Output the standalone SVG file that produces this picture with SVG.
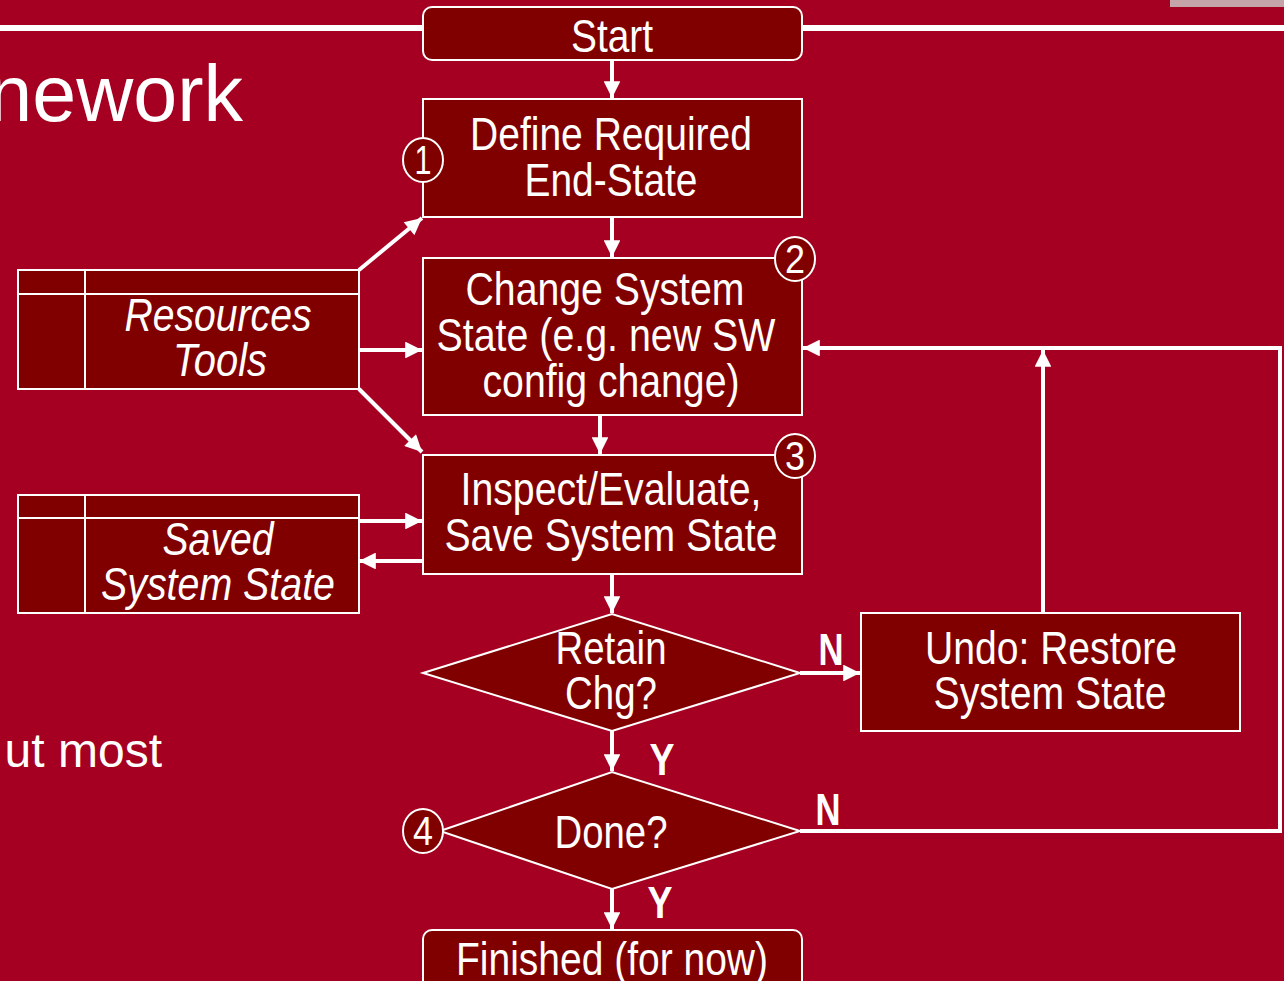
<svg xmlns="http://www.w3.org/2000/svg" width="1284" height="981" viewBox="0 0 1284 981">
<defs>
<marker id="ah" viewBox="0 0 10 10" refX="10" refY="5" markerWidth="4.5" markerHeight="4.2" markerUnits="strokeWidth" orient="auto">
<path d="M0,0 L10,5 L0,10 Z" fill="#fff"/>
</marker>
</defs>
<style>
.bg{fill:#A50021}
.box{fill:#800000;stroke:#fff;stroke-width:2}
.lbl{font-family:"Liberation Sans",Arial,sans-serif;fill:#fff;text-anchor:middle;font-size:47px}
.it{font-style:italic}
.yn{font-family:"Liberation Sans",Arial,sans-serif;fill:#fff;font-weight:bold;font-size:44px;text-anchor:middle}
.num{font-family:"Liberation Sans",Arial,sans-serif;fill:#fff;font-size:40px;text-anchor:middle}
.circ{fill:#800000;stroke:#fff;stroke-width:2}
.con{stroke:#fff;stroke-width:4;fill:none}
.slide{font-family:"Liberation Sans",Arial,sans-serif;fill:#fff;text-anchor:end}
</style>
<rect class="bg" x="0" y="0" width="1284" height="981"/>
<rect x="1170" y="0" width="114" height="7" fill="#C4A4A8"/>
<line x1="0" y1="28" x2="1284" y2="28" stroke="#fff" stroke-width="6"/>
<text class="slide" x="243" y="121" font-size="79">nework</text>
<text class="slide" x="162" y="767" font-size="48">ut most</text>

<g id="connectors">
<line class="con" x1="612" y1="60" x2="612" y2="98" marker-end="url(#ah)"/>
<line class="con" x1="612" y1="217" x2="612" y2="257" marker-end="url(#ah)"/>
<line class="con" x1="600" y1="415" x2="600" y2="454" marker-end="url(#ah)"/>
<line class="con" x1="612" y1="574" x2="612" y2="613" marker-end="url(#ah)"/>
<line class="con" x1="612" y1="731" x2="612" y2="771" marker-end="url(#ah)"/>
<line class="con" x1="612" y1="889" x2="612" y2="929" marker-end="url(#ah)"/>
<line class="con" x1="800" y1="673" x2="860" y2="673" marker-end="url(#ah)"/>
<line class="con" x1="1043" y1="612" x2="1043" y2="350" marker-end="url(#ah)"/>
<polyline class="con" points="800,831 1280,831 1280,348 803,348" marker-end="url(#ah)"/>
<line class="con" x1="359" y1="270" x2="422" y2="218" marker-end="url(#ah)"/>
<line class="con" x1="359" y1="350" x2="422" y2="350" marker-end="url(#ah)"/>
<line class="con" x1="359" y1="389" x2="422" y2="452" marker-end="url(#ah)"/>
<line class="con" x1="359" y1="521" x2="422" y2="521" marker-end="url(#ah)"/>
<line class="con" x1="422" y1="561" x2="359" y2="561" marker-end="url(#ah)"/>
<text class="yn" x="831" y="665" textLength="25" lengthAdjust="spacingAndGlyphs">N</text>
<text class="yn" x="828" y="825" textLength="25" lengthAdjust="spacingAndGlyphs">N</text>
<text class="yn" x="662" y="775" textLength="25" lengthAdjust="spacingAndGlyphs">Y</text>
<text class="yn" x="660" y="918" textLength="25" lengthAdjust="spacingAndGlyphs">Y</text>
</g>

<g id="start">
<rect class="box" x="423" y="7" width="379" height="53" rx="9"/>
<text class="lbl" x="612" y="52" textLength="82" lengthAdjust="spacingAndGlyphs">Start</text>
</g>
<g id="define">
<rect class="box" x="423" y="99" width="379" height="118"/>
<text class="lbl" x="611" y="150" textLength="282" lengthAdjust="spacingAndGlyphs">Define Required</text>
<text class="lbl" x="611" y="196" textLength="173" lengthAdjust="spacingAndGlyphs">End-State</text>
<ellipse class="circ" cx="423" cy="160" rx="20" ry="22"/>
<text class="num" x="423" y="174" textLength="17" lengthAdjust="spacingAndGlyphs">1</text>
</g>
<g id="change">
<rect class="box" x="423" y="258" width="379" height="157"/>
<text class="lbl" x="605" y="305" textLength="279" lengthAdjust="spacingAndGlyphs">Change System</text>
<text class="lbl" x="606" y="351" textLength="339" lengthAdjust="spacingAndGlyphs">State (e.g. new SW</text>
<text class="lbl" x="611" y="397" textLength="257" lengthAdjust="spacingAndGlyphs">config change)</text>
<ellipse class="circ" cx="795" cy="259" rx="20" ry="22"/>
<text class="num" x="795" y="273" textLength="20" lengthAdjust="spacingAndGlyphs">2</text>
</g>
<g id="inspect">
<rect class="box" x="423" y="455" width="379" height="119"/>
<text class="lbl" x="611" y="505" textLength="301" lengthAdjust="spacingAndGlyphs">Inspect/Evaluate,</text>
<text class="lbl" x="611" y="551" textLength="333" lengthAdjust="spacingAndGlyphs">Save System State</text>
<ellipse class="circ" cx="795" cy="456" rx="20" ry="22"/>
<text class="num" x="795" y="470" textLength="20" lengthAdjust="spacingAndGlyphs">3</text>
</g>
<g id="retain">
<polygon class="box" points="423,673 612,614 800,673 612,731"/>
<text class="lbl" x="611" y="664" textLength="111" lengthAdjust="spacingAndGlyphs">Retain</text>
<text class="lbl" x="611" y="709" textLength="92" lengthAdjust="spacingAndGlyphs">Chg?</text>
</g>
<g id="undo">
<rect class="box" x="861" y="613" width="379" height="118"/>
<text class="lbl" x="1051" y="664" textLength="252" lengthAdjust="spacingAndGlyphs">Undo: Restore</text>
<text class="lbl" x="1050" y="709" textLength="233" lengthAdjust="spacingAndGlyphs">System State</text>
</g>
<g id="done">
<polygon class="box" points="440,831 612,772 800,831 612,889"/>
<text class="lbl" x="611" y="848" textLength="113" lengthAdjust="spacingAndGlyphs">Done?</text>
<ellipse class="circ" cx="423" cy="831" rx="20" ry="22"/>
<text class="num" x="423" y="845" textLength="20" lengthAdjust="spacingAndGlyphs">4</text>
</g>
<g id="finished">
<rect class="box" x="423" y="930" width="379" height="70" rx="9"/>
<text class="lbl" x="612" y="975" textLength="312" lengthAdjust="spacingAndGlyphs">Finished (for now)</text>
</g>
<g id="resources">
<rect class="box" x="18" y="270" width="341" height="119"/>
<line x1="18" y1="294" x2="359" y2="294" stroke="#fff" stroke-width="2"/>
<line x1="85" y1="270" x2="85" y2="389" stroke="#fff" stroke-width="2"/>
<text class="lbl it" x="218" y="331" textLength="187" lengthAdjust="spacingAndGlyphs">Resources</text>
<text class="lbl it" x="220" y="376" textLength="94" lengthAdjust="spacingAndGlyphs">Tools</text>
</g>
<g id="saved">
<rect class="box" x="18" y="495" width="341" height="118"/>
<line x1="18" y1="518" x2="359" y2="518" stroke="#fff" stroke-width="2"/>
<line x1="85" y1="495" x2="85" y2="613" stroke="#fff" stroke-width="2"/>
<text class="lbl it" x="218" y="555" textLength="111" lengthAdjust="spacingAndGlyphs">Saved</text>
<text class="lbl it" x="218" y="600" textLength="234" lengthAdjust="spacingAndGlyphs">System State</text>
</g>
</svg>
